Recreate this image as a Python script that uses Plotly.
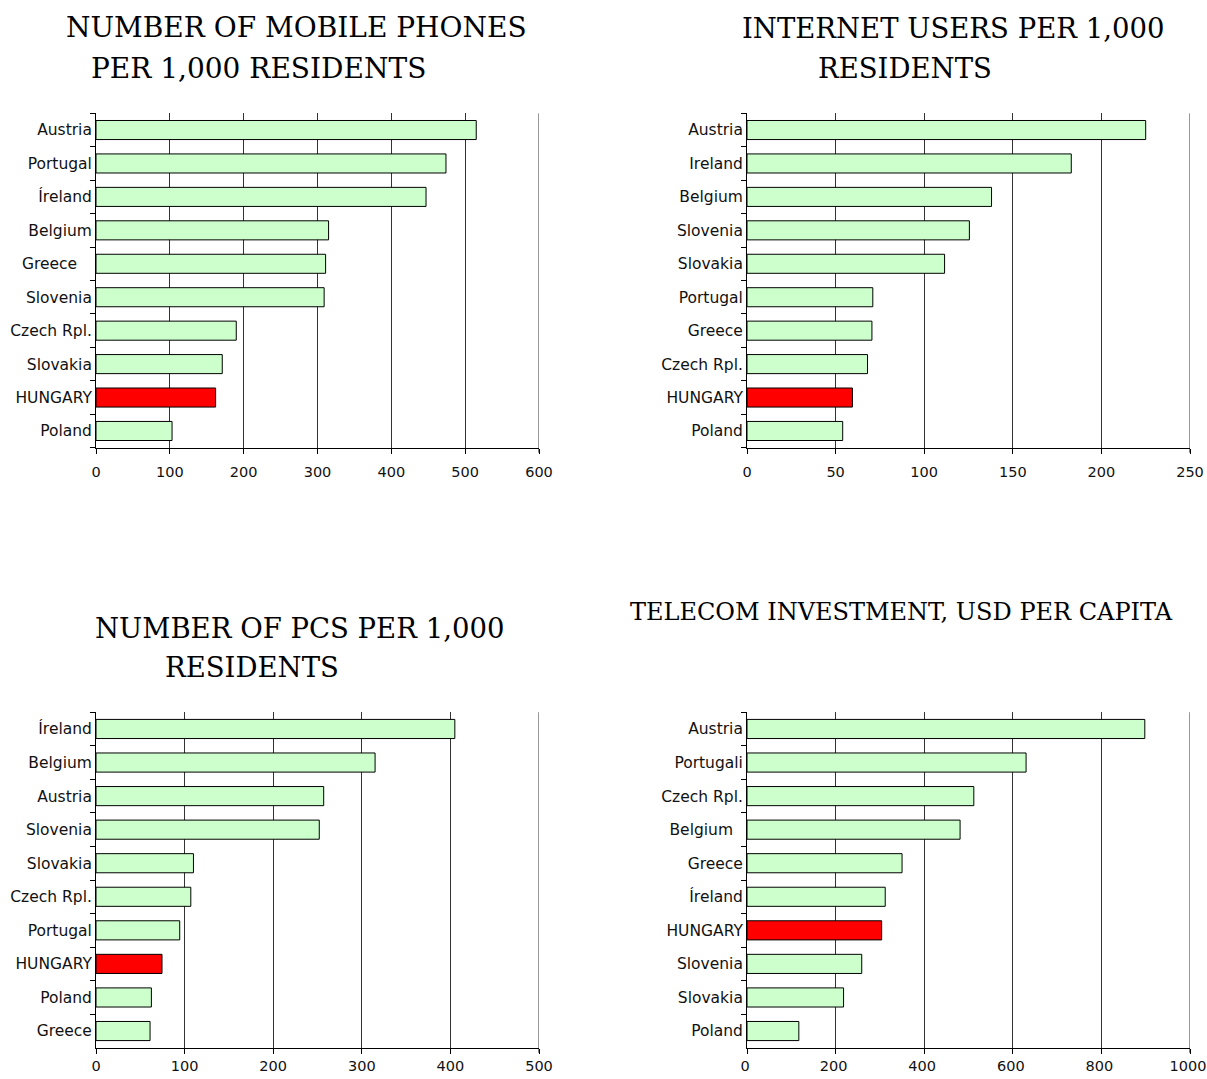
import plotly.graph_objects as go

# ---- data -------------------------------------------------------------
mobile_countries = ["Austria", "Portugal", "Íreland", "Belgium", "Greece", "Slovenia",
                    "Czech Rpl.", "Slovakia", "HUNGARY", "Poland"]
mobile_values = [515, 474, 447, 315, 311, 309, 190, 171, 162, 103]

internet_countries = ["Austria", "Ireland", "Belgium", "Slovenia", "Slovakia", "Portugal",
                      "Greece", "Czech Rpl.", "HUNGARY", "Poland"]
internet_values = [225, 183, 138, 125.5, 111.5, 71, 70.5, 68, 59.5, 54]

pc_countries = ["Íreland", "Belgium", "Austria", "Slovenia", "Slovakia", "Czech Rpl.",
                "Portugal", "HUNGARY", "Poland", "Greece"]
pc_values = [405, 315, 257, 252, 110, 107, 94.5, 74.5, 62.5, 61]

telecom_countries = ["Austria", "Portugali", "Czech Rpl.", "Belgium", "Greece", "Íreland",
                     "HUNGARY", "Slovenia", "Slovakia", "Poland"]
telecom_values = [898, 630, 512, 481, 350, 312, 304, 259, 218, 117]

# tick label text shown on the category axes (some labels carry trailing padding)
mobile_ticktext = [c if c != "Greece" else "Greece\u00a0\u00a0\u00a0" for c in mobile_countries]
telecom_ticktext = [c if c != "Belgium" else "Belgium\u00a0\u00a0" for c in telecom_countries]

x_ranges = [600, 250, 500, 1000]
x_dticks = [100, 50, 100, 200]

GREEN = "#CCFFCC"
RED = "#FF0000"
GRID = "#333333"

W, H = 1207, 1079

# panel geometry in pixels: (left, right, top, bottom, x-label standoff, x-label shift)
panels = [
    (96, 539, 113.3, 447.7, 6, 0),
    (747, 1190, 113.3, 447.7, 6, 0),
    (96, 539, 712.2, 1047.8, 0, 0),
    (747, 1190, 712.2, 1047.8, 0, -2),
]

datasets = [
    (mobile_countries, mobile_values, mobile_ticktext),
    (internet_countries, internet_values, internet_countries),
    (pc_countries, pc_values, pc_countries),
    (telecom_countries, telecom_values, telecom_ticktext),
]

LABEL_FONT = dict(family="DejaVu Sans", size=15.5, color="#111111")
VALUE_FONT = dict(family="DejaVu Sans", size=14.5, color="#111111")

fig = go.Figure()
layout = {}
shapes = []
for i, ((cats, vals, ticktext), (l, r, t, b, standoff, shift)) in enumerate(zip(datasets, panels)):
    n = "" if i == 0 else str(i + 1)
    colors = [RED if c == "HUNGARY" else GREEN for c in cats]
    fig.add_trace(go.Bar(
        x=vals, y=cats, orientation="h",
        marker=dict(color=colors, line=dict(color="#000000", width=1)),
        width=0.57,
        xaxis="x" + n, yaxis="y" + n,
        showlegend=False, hoverinfo="x+y",
    ))
    layout["xaxis" + n] = dict(
        domain=[l / W, r / W], anchor="y" + n, automargin=False,
        range=[0, x_ranges[i]], dtick=x_dticks[i], tick0=0,
        showgrid=True, gridcolor=GRID, gridwidth=1,
        showline=True, linecolor="#000000", linewidth=1,
        ticks="outside", ticklen=5, tickcolor="#000000",
        tickfont=VALUE_FONT, ticklabelstandoff=standoff, ticklabelshift=shift,
        ticklabeloverflow="allow",
        zeroline=False, fixedrange=True,
    )
    layout["yaxis" + n] = dict(
        domain=[1 - b / H, 1 - t / H], anchor="x" + n, automargin=False,
        type="category", categoryorder="array", categoryarray=cats,
        tickmode="array", tickvals=cats, ticktext=ticktext,
        range=[len(cats) - 0.5, -0.5],
        showline=True, linecolor="#000000", linewidth=1,
        ticks="outside", ticklen=5, tickcolor="#000000", tickson="boundaries",
        tickfont=LABEL_FONT, ticklabelstandoff=0,
        ticklabeloverflow="allow",
        showgrid=False, zeroline=False, fixedrange=True,
    )
    # closing gridline at the end of the value axis
    shapes.append(dict(
        type="line", xref="x" + n, yref="y" + n + " domain",
        x0=x_ranges[i], x1=x_ranges[i], y0=0, y1=1,
        line=dict(color=GRID, width=1), layer="below",
    ))
    shapes.append(dict(
        type="line", xref="x" + n, yref="y" + n + " domain",
        x0=x_ranges[i], x1=x_ranges[i], y0=0, y1=-5 / (b - t),
        line=dict(color="#000000", width=1),
    ))

# titles: (text, left px, centre px, font size)
titles = [
    ("NUMBER OF MOBILE PHONES", 64, 28, 28),
    ("PER 1,000 RESIDENTS", 89, 68, 28),
    ("INTERNET USERS PER 1,000", 740, 28, 27.5),
    ("RESIDENTS", 816, 68, 27.5),
    ("NUMBER OF PCS PER 1,000", 93, 628, 27.5),
    ("RESIDENTS", 163, 667, 27.5),
    ("TELECOM INVESTMENT, USD PER CAPITA", 628, 612, 24),
]
annotations = []
for text, x, y, size in titles:
    annotations.append(dict(
        text=text, x=x / W, y=1 - y / H, xref="paper", yref="paper",
        xanchor="left", yanchor="middle", showarrow=False,
        font=dict(family="DejaVu Serif", size=size, color="#000000"),
    ))

fig.update_layout(
    width=W, height=H,
    margin=dict(l=0, r=0, t=0, b=0),
    paper_bgcolor="#ffffff", plot_bgcolor="#ffffff",
    annotations=annotations,
    shapes=shapes,
    **layout,
)

fig.write_html("out.html")
